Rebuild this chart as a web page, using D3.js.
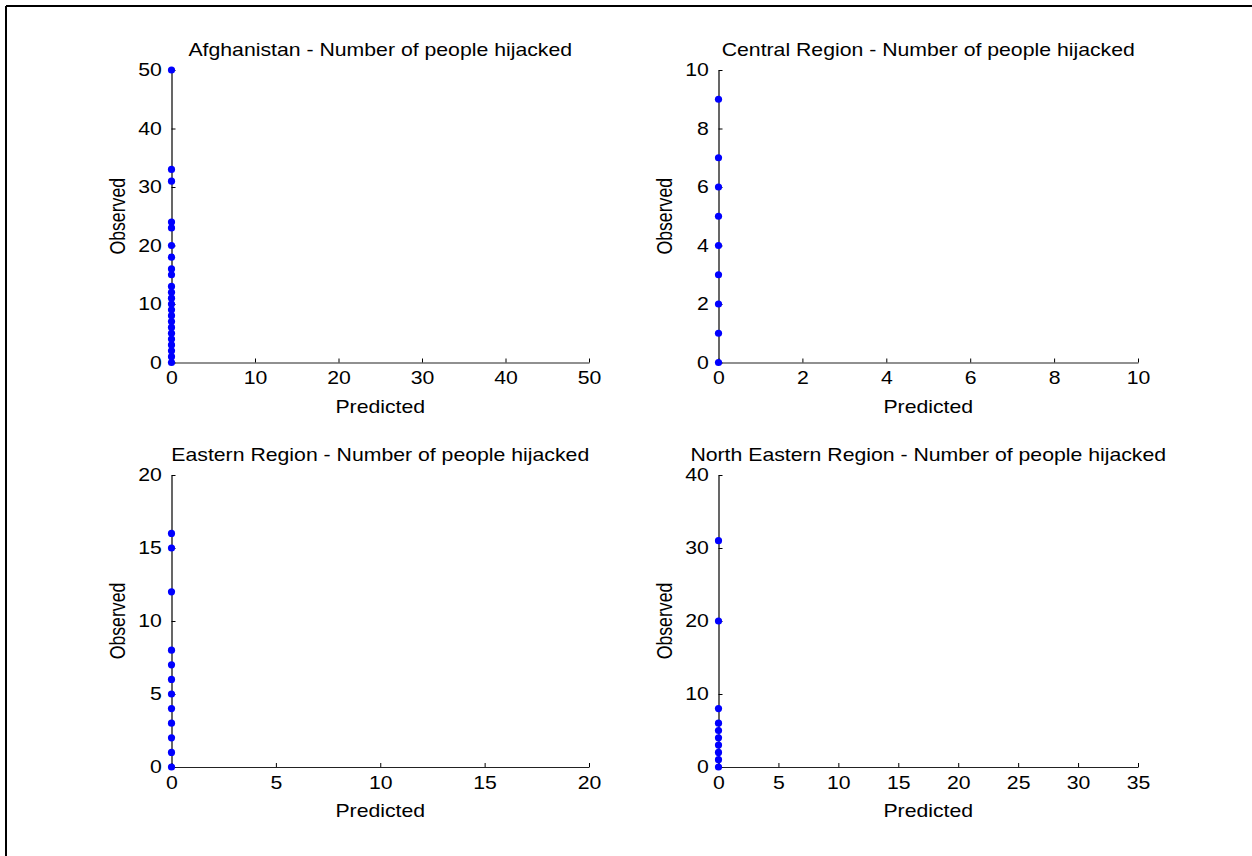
<!DOCTYPE html>
<html>
<head>
<meta charset="utf-8">
<script src="https://cdn.jsdelivr.net/npm/d3@7"></script>
<style>
  html, body { margin: 0; padding: 0; background: #fff; }
  svg { display: block; }
  text { font-family: "Liberation Sans", Arial, Helvetica, sans-serif; fill: #000; }
</style>
</head>
<body>
<svg id="chart" width="1252" height="856"></svg>
<script>
// ---- Data ----
const titles = [
  "Afghanistan - Number of people hijacked",
  "Central Region - Number of people hijacked",
  "Eastern Region - Number of people hijacked",
  "North Eastern Region - Number of people hijacked"
];
const afghanObserved = [50, 33, 31, 24, 23, 20, 18, 16, 15, 13, 12, 11, 10, 9, 8, 7, 6, 5, 4, 3, 2, 1, 0];
const afghanPredicted = [0, 0, 0, 0, 0, 0, 0, 0, 0, 0, 0, 0, 0, 0, 0, 0, 0, 0, 0, 0, 0, 0, 0];
const centralObserved = [9, 7, 6, 5, 4, 3, 2, 1, 0];
const centralPredicted = [0, 0, 0, 0, 0, 0, 0, 0, 0];
const easternObserved = [16, 15, 12, 8, 7, 6, 5, 4, 3, 2, 1, 0];
const easternPredicted = [0, 0, 0, 0, 0, 0, 0, 0, 0, 0, 0, 0];
const northEasternObserved = [31, 20, 8, 6, 5, 4, 3, 2, 1, 0];
const northEasternPredicted = [0, 0, 0, 0, 0, 0, 0, 0, 0, 0];

const afghanXTicks = [0, 10, 20, 30, 40, 50];
const afghanYTicks = [0, 10, 20, 30, 40, 50];
const centralXTicks = [0, 2, 4, 6, 8, 10];
const centralYTicks = [0, 2, 4, 6, 8, 10];
const easternXTicks = [0, 5, 10, 15, 20];
const easternYTicks = [0, 5, 10, 15, 20];
const northEasternXTicks = [0, 5, 10, 15, 20, 25, 30, 35];
const northEasternYTicks = [0, 10, 20, 30, 40];

const xLabel = "Predicted";
const yLabel = "Observed";

// ---- Layout ----
const FS = 17.7;     // glyph height
const SX = 1.2;      // horizontal glyph stretch seen in the reference
const panels = [
  { title: titles[0], obs: afghanObserved, pred: afghanPredicted, xt: afghanXTicks, yt: afghanYTicks, x0: 171.5, x1: 589, y0: 70, y1: 362.5 },
  { title: titles[1], obs: centralObserved, pred: centralPredicted, xt: centralXTicks, yt: centralYTicks, x0: 718.5, x1: 1138, y0: 70, y1: 362.5 },
  { title: titles[2], obs: easternObserved, pred: easternPredicted, xt: easternXTicks, yt: easternYTicks, x0: 171.5, x1: 589, y0: 475, y1: 767 },
  { title: titles[3], obs: northEasternObserved, pred: northEasternPredicted, xt: northEasternXTicks, yt: northEasternYTicks, x0: 718.5, x1: 1138, y0: 475, y1: 767 }
];

const svg = d3.select("#chart");

// figure frame (left and top edges visible)
svg.append("line").attr("x1", 6).attr("y1", 6).attr("x2", 1252).attr("y2", 6)
  .attr("stroke", "#000").attr("stroke-width", 2);
svg.append("line").attr("x1", 6).attr("y1", 6).attr("x2", 6).attr("y2", 856)
  .attr("stroke", "#000").attr("stroke-width", 2);

function stretchedText(parent, cx, cy, str, rotate) {
  return parent.append("text")
    .attr("transform", `translate(${cx},${cy}) scale(${SX},1)` + (rotate ? " rotate(-90)" : ""))
    .attr("text-anchor", "middle")
    .attr("font-size", FS)
    .text(str);
}

panels.forEach(p => {
  const x = d3.scaleLinear()
    .domain([p.xt[0], p.xt[p.xt.length - 1]])
    .range([p.x0, p.x1]);
  const y = d3.scaleLinear()
    .domain([p.yt[0], p.yt[p.yt.length - 1]])
    .range([p.y1, p.y0]);

  const g = svg.append("g");

  // x axis
  const xa = g.append("g")
    .attr("transform", `translate(0,${p.y1})`)
    .call(d3.axisBottom(x).tickValues(p.xt).tickSize(0).tickPadding(9).tickFormat(d3.format("d")));
  xa.select(".domain").attr("stroke", "#222").attr("stroke-width", 1.2);
  xa.selectAll(".tick text").attr("font-size", FS).attr("font-family", "Liberation Sans, Arial, sans-serif")
    .attr("fill", "#000").attr("transform", `scale(${SX},1)`);
  xa.selectAll(".tick").append("line").attr("y1", 0).attr("y2", -4).attr("stroke", "#000");

  // y axis
  const ya = g.append("g")
    .attr("transform", `translate(${p.x0},0)`)
    .call(d3.axisLeft(y).tickValues(p.yt).tickSize(0).tickPadding(8).tickFormat(d3.format("d")));
  ya.select(".domain").attr("stroke", "#000").attr("stroke-width", 1.2);
  ya.selectAll(".tick text").attr("font-size", FS).attr("font-family", "Liberation Sans, Arial, sans-serif")
    .attr("fill", "#000").attr("transform", `scale(${SX},1)`);
  ya.selectAll(".tick").append("line").attr("x1", 0).attr("x2", 4).attr("stroke", "#000");

  // title
  stretchedText(g, (p.x0 + p.x1) / 2, p.y0 - 14, p.title, false);
  // x label
  stretchedText(g, (p.x0 + p.x1) / 2, p.y1 + 50, xLabel, false);
  // y label
  stretchedText(g, p.x0 - 47, (p.y0 + p.y1) / 2, yLabel, true);

  // points
  g.append("g").selectAll("circle")
    .data(p.obs.map((o, i) => ({ o, pr: p.pred[i] })))
    .join("circle")
    .attr("cx", d => x(d.pr))
    .attr("cy", d => y(d.o))
    .attr("r", 3.6)
    .attr("fill", "#0000ff");
});
</script>
</body>
</html>
